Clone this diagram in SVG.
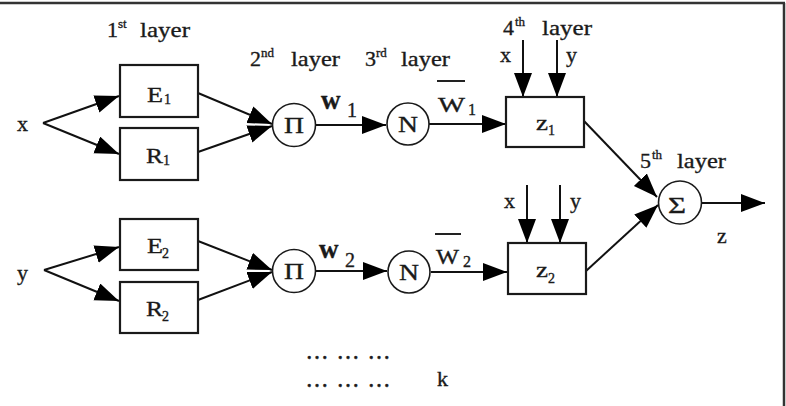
<svg xmlns="http://www.w3.org/2000/svg" width="786" height="406" viewBox="0 0 786 406">
<style>
text{font-family:"Liberation Serif","Times New Roman",serif;fill:#1a1a1a;stroke:#1a1a1a;stroke-width:0.35}
.lbl{font-size:22px}
.big{font-size:24px}
.sup{font-size:13px}
.sub{font-size:14px}
.box{fill:#fff;stroke:#1a1a1a;stroke-width:2.2}
.cir{fill:#fff;stroke:#1a1a1a;stroke-width:1.6}
.edge{stroke:#111;stroke-width:2;fill:none;marker-end:url(#ah)}
.dots{font-size:18px;font-weight:bold}
</style>
<defs>
<marker id="ah" markerUnits="userSpaceOnUse" markerWidth="26" markerHeight="20" refX="24" refY="9" orient="auto">
<path d="M0,0 L24,9 L0,18 z" fill="#000"/>
</marker>
</defs>
<rect x="0" y="0" width="786" height="406" fill="#fff"/>
<line x1="0" y1="3" x2="785" y2="3" stroke="#333" stroke-width="2.5"/>
<line x1="784" y1="3" x2="784" y2="406" stroke="#333" stroke-width="2.5"/>

<g id="layer-labels">
<text x="107" y="37" class="lbl">1</text><text x="118" y="28" class="sup">st</text><text x="140" y="37" class="lbl" textLength="50" lengthAdjust="spacingAndGlyphs">layer</text>
<text x="250" y="66" class="lbl">2</text><text x="261" y="57" class="sup">nd</text><text x="291" y="66" class="lbl" textLength="49" lengthAdjust="spacingAndGlyphs">layer</text>
<text x="365" y="66" class="lbl">3</text><text x="376" y="57" class="sup">rd</text><text x="401" y="66" class="lbl" textLength="49" lengthAdjust="spacingAndGlyphs">layer</text>
<text x="503" y="35" class="lbl">4</text><text x="515" y="26" class="sup">th</text><text x="542" y="35" class="lbl" textLength="50" lengthAdjust="spacingAndGlyphs">layer</text>
<text x="640" y="168" class="lbl">5</text><text x="652" y="159" class="sup">th</text><text x="677" y="168" class="lbl" textLength="49" lengthAdjust="spacingAndGlyphs">layer</text>
</g>

<g id="connectors">
<line class="edge" x1="43" y1="123" x2="119" y2="96"/>
<line class="edge" x1="43" y1="123" x2="119" y2="154"/>
<line class="edge" x1="198" y1="93" x2="272" y2="124"/>
<line class="edge" x1="198" y1="152" x2="272" y2="126"/>
<line class="edge" x1="315" y1="125" x2="386" y2="125"/>
<line class="edge" x1="429" y1="124" x2="506" y2="124"/>
<line class="edge" x1="523" y1="40" x2="523" y2="97"/>
<line class="edge" x1="557" y1="40" x2="557" y2="97"/>
<line class="edge" x1="584" y1="121" x2="657" y2="197"/>
<line class="edge" x1="44" y1="270" x2="119" y2="247"/>
<line class="edge" x1="44" y1="270" x2="119" y2="301"/>
<line class="edge" x1="198" y1="241" x2="272" y2="270"/>
<line class="edge" x1="198" y1="300" x2="272" y2="272"/>
<line class="edge" x1="315" y1="271" x2="387" y2="271"/>
<line class="edge" x1="431" y1="272" x2="507" y2="272"/>
<line class="edge" x1="527" y1="185" x2="527" y2="243"/>
<line class="edge" x1="560" y1="185" x2="560" y2="243"/>
<line class="edge" x1="586" y1="271" x2="658" y2="205"/>
<line class="edge" x1="702" y1="203" x2="765" y2="203"/>
</g>

<g id="input-x"><text x="17" y="131" class="lbl">x</text></g>
<g id="input-y"><text x="17" y="280" class="lbl">y</text></g>

<g id="E1"><rect class="box" x="120" y="65" width="78" height="52"/><text x="147" y="102" class="lbl" textLength="16" lengthAdjust="spacingAndGlyphs">E</text><text x="164" y="104" class="sub">1</text></g>
<g id="R1"><rect class="box" x="120" y="128" width="78" height="52"/><text x="146" y="163" class="lbl" textLength="17" lengthAdjust="spacingAndGlyphs">R</text><text x="163" y="165" class="sub">1</text></g>
<g id="E2"><rect class="box" x="120" y="219" width="78" height="51"/><text x="147" y="253" class="lbl" textLength="16" lengthAdjust="spacingAndGlyphs">E</text><text x="162" y="258" class="sub">2</text></g>
<g id="R2"><rect class="box" x="120" y="282" width="78" height="51"/><text x="146" y="316" class="lbl" textLength="17" lengthAdjust="spacingAndGlyphs">R</text><text x="162" y="321" class="sub">2</text></g>

<g id="Pi1"><circle class="cir" cx="294" cy="125" r="21.5"/><text x="284" y="133" class="big" textLength="20" lengthAdjust="spacingAndGlyphs">Π</text></g>
<g id="Pi2"><circle class="cir" cx="294" cy="271" r="21.5"/><text x="284" y="279" class="big" textLength="20" lengthAdjust="spacingAndGlyphs">Π</text></g>
<g id="N1"><circle class="cir" cx="408" cy="124" r="21"/><text x="398" y="132" class="big" textLength="20" lengthAdjust="spacingAndGlyphs">N</text></g>
<g id="N2"><circle class="cir" cx="409" cy="272" r="21"/><text x="399" y="280" class="big" textLength="20" lengthAdjust="spacingAndGlyphs">N</text></g>

<g id="w1"><text x="321" y="109" style="font-size:27px;font-weight:bold">w</text><text x="347" y="117" style="font-size:20px">1</text></g>
<g id="w2"><text x="319" y="258" style="font-size:27px;font-weight:bold">w</text><text x="345" y="267" style="font-size:20px">2</text></g>
<g id="wbar1"><line x1="437" y1="81" x2="465" y2="81" stroke="#222" stroke-width="2"/><text x="438" y="112" class="lbl" textLength="27" lengthAdjust="spacingAndGlyphs">W</text><text x="468" y="115" style="font-size:16px">1</text></g>
<g id="wbar2"><line x1="435" y1="234" x2="461" y2="234" stroke="#222" stroke-width="2"/><text x="436" y="264" class="lbl" textLength="23" lengthAdjust="spacingAndGlyphs">W</text><text x="463" y="267" style="font-size:16px">2</text></g>

<g id="z1"><rect class="box" x="506" y="97" width="78" height="50"/><text x="536" y="130" class="lbl" textLength="12" lengthAdjust="spacingAndGlyphs">z</text><text x="548" y="135" class="sub">1</text>
<text x="500" y="62" class="lbl">x</text><text x="566" y="62" class="lbl">y</text></g>
<g id="z2"><rect class="box" x="508" y="243" width="78" height="51"/><text x="536" y="277" class="lbl" textLength="12" lengthAdjust="spacingAndGlyphs">z</text><text x="548" y="283" class="sub">2</text>
<text x="504" y="208" class="lbl">x</text><text x="570" y="208" class="lbl">y</text></g>

<g id="Sigma"><circle class="cir" cx="680" cy="202.5" r="21.5"/><text x="668" y="213" class="big" textLength="18" lengthAdjust="spacingAndGlyphs">Σ</text></g>
<g id="output-z"><text x="717" y="243" class="lbl">z</text></g>

<g id="ellipsis">
<text x="307" y="359" class="dots" textLength="82" lengthAdjust="spacing">... ... ...</text>
<text x="307" y="387" class="dots" textLength="82" lengthAdjust="spacing">... ... ...</text>
<text x="437" y="386" class="lbl">k</text>
</g>
</svg>
